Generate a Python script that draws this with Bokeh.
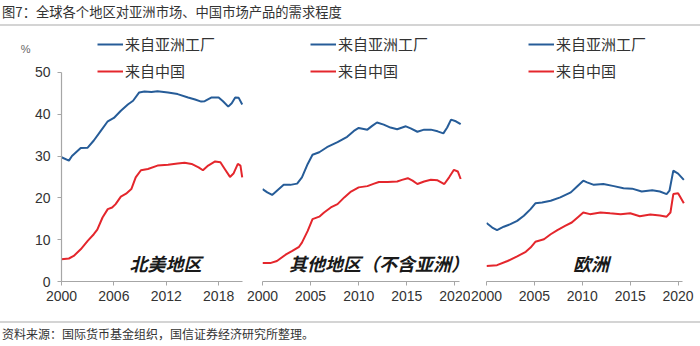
from bokeh.plotting import figure
from bokeh.models import Div, FixedTicker, Label, Legend, LinearAxis
from bokeh.layouts import row, column
from bokeh.embed import file_html
from bokeh.resources import INLINE

# ---- data ----
na_asia_x = [2000, 2000.85, 2001.2, 2002.2, 2003, 2003.7, 2004.5, 2005.3, 2006, 2006.8, 2007.6, 2008.2, 2008.9, 2009.5,
             2010.3, 2011, 2012.2, 2013.3, 2014.5, 2015.3, 2016, 2016.4, 2017.2, 2018, 2018.5, 2019.1, 2019.5, 2019.9,
             2020.3, 2020.7]
na_asia_y = [29.7, 28.9, 30, 31.9, 32, 33.7, 36, 38.3, 39.1, 40.8, 42.3, 43.2, 45.2, 45.4,
             45.3, 45.5, 45.2, 44.8, 44, 43.5, 43, 43.1, 44, 44, 43.1, 41.8, 42.6, 44,
             43.9, 42.3]
na_china_x = [2000, 2000.85, 2001.4, 2002.2, 2003, 2003.7, 2004.1, 2004.7, 2005.3, 2005.8, 2006.2, 2006.8, 2007.4, 2008,
              2008.5, 2009.1, 2009.9, 2011, 2012.2, 2013.3, 2014.1, 2014.9, 2015.7, 2016.2, 2016.8, 2017.6, 2018.2,
              2018.7, 2019.3, 2019.7, 2020.2, 2020.5, 2020.7]
na_china_y = [5.3, 5.5, 6.1, 7.7, 9.7, 11.3, 12.4, 15.3, 17.3, 17.7, 18.5, 20.3, 21, 22.1,
              24.9, 26.6, 26.9, 27.7, 27.9, 28.2, 28.4, 28.1, 27.3, 26.6, 27.7, 28.7, 28.5,
              26.9, 25, 25.8, 28.1, 27.7, 24.9]

ot_asia_x = [2000, 2000.5, 2001, 2001.5, 2002.2, 2002.9, 2003.6, 2004.1, 2004.7, 2005.2, 2005.9, 2006.7, 2007.8, 2008.8,
             2009.5, 2010, 2010.9, 2011.4, 2011.9, 2012.6, 2013.3, 2014, 2014.9, 2015.4, 2016.1, 2016.8, 2017.5,
             2018.2, 2018.8, 2019.2, 2019.6, 2020.1, 2020.6]
ot_asia_y = [22.1, 21.3, 20.7, 21.7, 23.1, 23.1, 23.4, 24.9, 28.1, 30.3, 30.9, 32.1, 33.3, 34.6,
             36, 36.7, 36.3, 37.2, 38, 37.5, 36.8, 36.4, 37.1, 36.6, 35.8, 36.3, 36.3,
             35.9, 35.4, 36.8, 38.7, 38.3, 37.6]
ot_china_x = [2000, 2000.8, 2001.5, 2002.4, 2003.1, 2003.8, 2004.1, 2004.7, 2005.2, 2005.9, 2006.4, 2007.1, 2007.8, 2008.5,
              2009.2, 2010, 2010.9, 2011.6, 2012.1, 2013, 2014, 2014.5, 2015.1, 2015.6, 2016.1, 2016.8, 2017.5,
              2018.2, 2018.9, 2019.4, 2019.9, 2020.3, 2020.6]
ot_china_y = [4.4, 4.4, 4.9, 6.4, 7.3, 8.3, 9.3, 12.1, 14.9, 15.5, 16.5, 17.7, 18.5, 20.1,
              21.5, 22.5, 22.8, 23.4, 23.8, 23.8, 23.9, 24.3, 24.7, 24.1, 23.3, 23.9, 24.3,
              24.2, 23.3, 24.9, 26.7, 26.3, 24.5]

eu_asia_x = [2000, 2000.6, 2001.1, 2001.8, 2002.5, 2003.2, 2003.9, 2004.6, 2005.1, 2005.8, 2006.7, 2007.7, 2008.8, 2009.4,
             2010.1, 2010.5, 2011.2, 2012.2, 2013.3, 2014.3, 2015.2, 2016.2, 2017.3, 2018.1, 2018.8, 2019.1, 2019.5,
             2020, 2020.6]
eu_asia_y = [14, 12.9, 12.3, 13.1, 13.7, 14.5, 15.7, 17.3, 18.7, 18.9, 19.3, 20.1, 21.3, 22.6,
             24.1, 23.7, 23.1, 23.3, 22.8, 22.3, 22.2, 21.5, 21.8, 21.5, 20.9, 21.7, 26.5,
             25.8, 24.3]
eu_china_x = [2000, 2001.1, 2002.2, 2003.2, 2004.1, 2004.6, 2005.1, 2006, 2006.7, 2007.4, 2008.2, 2008.9, 2009.6, 2010.1,
              2010.8, 2011.9, 2012.9, 2014, 2015, 2016, 2017.1, 2018.1, 2018.8, 2019.2, 2019.5, 2020, 2020.6]
eu_china_y = [3.7, 3.9, 4.9, 6, 7.1, 8.1, 9.5, 10.1, 11.3, 12.3, 13.3, 14.1, 15.5, 16.5,
              16.1, 16.5, 16.3, 16.1, 16.3, 15.6, 16, 15.8, 15.5, 16.5, 20.9, 21.1, 18.7]

series_names = ["来自亚洲工厂", "来自中国"]
region_names = ["北美地区", "其他地区（不含亚洲）", "欧洲"]
y_ticks = [0, 10, 20, 30, 40, 50]
x_ticks_na = [2000, 2006, 2012, 2018]
x_ticks_other = [2000, 2005, 2010, 2015, 2020]
unit_text = "%"
title_text = "图7：全球各个地区对亚洲市场、中国市场产品的需求程度"
source_text = "资料来源：国际货币基金组织，国信证券经济研究所整理。"

BLUE = "#265C98"
RED = "#E4262C"
AXIS = "#A6A6A6"
TXT = "#333333"
CJK = "Noto Sans CJK SC"
NUM = "Liberation Sans"

FIG_H = 285


def make_panel(width, left, xr, xticks, xbounds, show_y, asia, china, legend_x, region, region_x):
    p = figure(width=width, height=FIG_H, x_range=xr, y_range=(0, 60),
               output_backend="svg", toolbar_location=None,
               min_border_left=left, min_border_right=0, min_border_top=4, min_border_bottom=30,
               y_axis_location="left" if show_y else None, margin=0)
    p.outline_line_color = None
    p.grid.visible = False
    p.background_fill_color = "white"
    p.border_fill_color = "white"

    xa = p.xaxis[0]
    xa.ticker = FixedTicker(ticks=xticks)
    xa.bounds = xbounds
    xa.axis_line_color = AXIS
    xa.axis_line_width = 1.2
    xa.major_tick_line_color = AXIS
    xa.major_tick_out = 4
    xa.major_tick_in = 0
    xa.minor_tick_line_color = None
    xa.major_label_text_font = NUM
    xa.major_label_text_font_size = "14px"
    xa.major_label_text_color = TXT
    xa.major_label_standoff = 5

    if show_y:
        ya = p.yaxis[0]
        ya.ticker = FixedTicker(ticks=y_ticks)
        ya.bounds = (0, 50)
        ya.axis_line_color = AXIS
        ya.axis_line_width = 1.2
        ya.major_tick_line_color = AXIS
        ya.major_tick_out = 4
        ya.major_tick_in = 0
        ya.minor_tick_line_color = None
        ya.major_label_text_font = NUM
        ya.major_label_text_font_size = "14px"
        ya.major_label_text_color = TXT
        ya.major_label_standoff = 7

    r1 = p.line(asia[0], asia[1], line_color=BLUE, line_width=2)
    r2 = p.line(china[0], china[1], line_color=RED, line_width=2)

    leg = Legend(items=[(series_names[0], [r1]), (series_names[1], [r2])],
                 location=(legend_x, 200), orientation="vertical")
    leg.background_fill_alpha = 0
    leg.border_line_alpha = 0
    leg.padding = 0
    leg.margin = 0
    leg.spacing = 6
    leg.glyph_width = 26
    leg.glyph_height = 20
    leg.label_height = 20
    leg.label_standoff = 2
    leg.label_text_font = CJK
    leg.label_text_font_size = "15px"
    leg.label_text_color = TXT
    p.add_layout(leg)

    p.add_layout(Label(x=region_x, y=4.5, text=region, text_font=CJK, text_font_size="18px",
                       text_font_style="bold italic", text_color="#1a1a1a",
                       text_align="center", text_baseline="middle"))
    return p


p1 = make_panel(246, 61, (2000, 2000 + 185 / 8.73), x_ticks_na, (2000, 2020.7), True,
                (na_asia_x, na_asia_y), (na_china_x, na_china_y), 36, region_names[0], 2011.9)
# unit "%" shown as a single-label extra axis to the left of the value axis
unit_axis = LinearAxis(ticker=FixedTicker(ticks=[55.6]), major_label_overrides={55.6: unit_text},
                       axis_line_color=None, major_tick_line_color=None, minor_tick_line_color=None,
                       major_tick_out=0, major_tick_in=0, major_label_standoff=1,
                       major_label_text_font=NUM, major_label_text_font_size="11px",
                       major_label_text_color="#666666")
p1.add_layout(unit_axis, "left")
p2 = make_panel(224, 16, (2000, 2000 + 208 / 9.62), x_ticks_other, (2000, 2020.5), False,
                (ot_asia_x, ot_asia_y), (ot_china_x, ot_china_y), 48, region_names[1], 2012.1)
p3 = make_panel(230, 16, (2000, 2000 + 214 / 9.58), x_ticks_other, (2000, 2020.5), False,
                (eu_asia_x, eu_asia_y), (eu_china_x, eu_china_y), 42, region_names[2], 2010.9)

title_div = Div(
    text=('<div style="width:700px;height:26px;box-sizing:border-box;line-height:23px;'
          'font-size:13.3px;font-family:\'Noto Sans CJK SC\';color:#333;padding-left:2px;'
          'border-bottom:2px solid #d4d4d4;white-space:nowrap;">' + title_text + '</div>'),
    width=700, height=26, margin=0)
foot_div = Div(
    text=('<div style="width:700px;margin-top:10px;box-sizing:border-box;line-height:22px;'
          'font-size:12px;font-family:\'Noto Sans CJK SC\';color:#333;padding-left:2px;'
          'border-top:2px solid #d4d4d4;white-space:nowrap;">' + source_text + '</div>'),
    width=700, height=35, margin=0)

layout = column(title_div, row(p1, p2, p3, spacing=0, margin=0), foot_div, spacing=0, margin=0)

with open("out.html", "w") as f:
    f.write(file_html(layout, INLINE))
